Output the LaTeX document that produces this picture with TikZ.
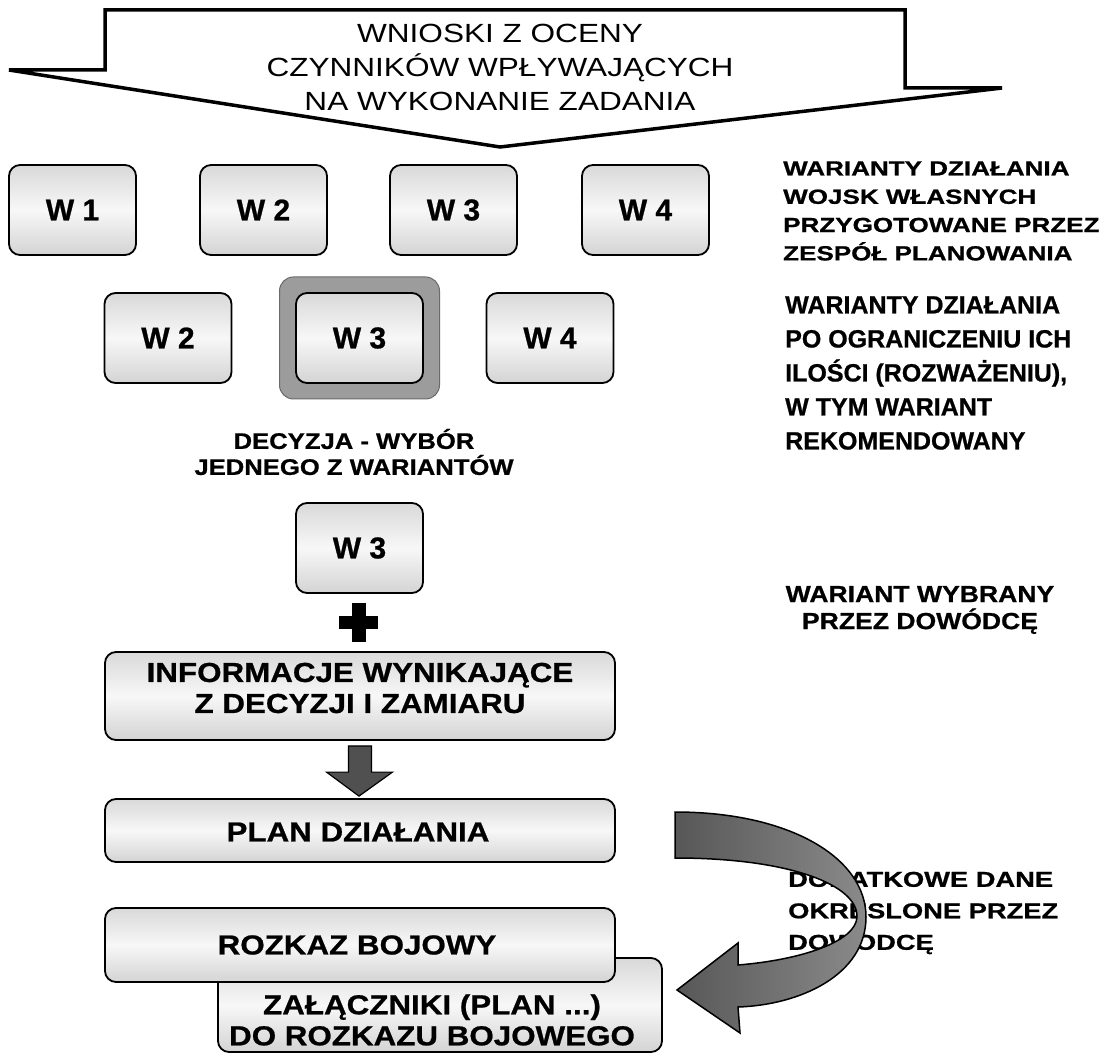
\documentclass[tikz,border=0pt]{standalone}
\usepackage{fontspec}
\setmainfont{Liberation Sans}[BoldFeatures={FakeBold=0.8}]
\newfontfamily\sA{Liberation Sans}[FakeStretch=1.14, BoldFeatures={FakeBold=0.8}]
\newfontfamily\sB{Liberation Sans}[FakeStretch=1.2]
\newfontfamily\sC{Liberation Sans}[FakeStretch=1.27, BoldFeatures={FakeBold=0.8}]
\usetikzlibrary{calc}
\definecolor{arrdark}{HTML}{575757}
\definecolor{arrlight}{HTML}{8A8A8A}
\definecolor{hlfill}{HTML}{9C9C9C}
\definecolor{hldraw}{HTML}{6A6A6A}
\definecolor{downfill}{HTML}{505050}
\begin{document}
\begin{tikzpicture}[x=1pt,y=-1pt,
  wbox/.style={draw=black, line width=1.8pt, rounded corners=11pt,
    top color=gray!30, bottom color=gray!34, middle color=gray!6,
    minimum width=127pt, minimum height=90pt, inner sep=0pt,
    font=\bfseries\fontsize{30}{30}\selectfont},
  longbox/.style={draw=black, line width=1.8pt, rounded corners=11pt,
    top color=gray!30, bottom color=gray!34, middle color=gray!6,
    inner sep=0pt},
  btext/.style={font=\sA\bfseries\fontsize{27.5}{31}\selectfont, align=center, inner sep=0pt},
  sidetext/.style={align=left, inner sep=0pt, anchor=west},
]
\fill[white] (0,0) rectangle (1120,1056);
\useasboundingbox (0,0) rectangle (1120,1056);

% top callout
\draw[line width=3.5pt, fill=white] (105,10) -- (905,10) -- (905,88) -- (1002,88)
  -- (500,147) -- (9,70) -- (105,70) -- cycle;
\node[font=\sB\fontsize{26.3}{34}\selectfont, align=center, inner sep=0pt] (wnioski) at (500,67)
  {WNIOSKI Z OCENY\\CZYNNIKÓW WPŁYWAJĄCYCH\\NA WYKONANIE ZADANIA};

% first row
\node[wbox] (a1) at (72.5,210) {W 1};
\node[wbox] (a2) at (263.5,210) {W 2};
\node[wbox] (a3) at (453.5,210) {W 3};
\node[wbox] (a4) at (645.5,210) {W 4};

% second row
\node[draw=hldraw, line width=1pt, fill=hlfill, rounded corners=14pt,
  minimum width=160pt, minimum height=122pt, inner sep=0pt] (hl) at (359.5,338) {};
\node[wbox] (b2) at (168,338) {W 2};
\node[wbox] (b3) at (hl.center) {W 3};
\node[wbox] (b4) at (550,338) {W 4};

% decision
\node[font=\sA\bfseries\fontsize{22.5}{26}\selectfont, align=center, inner sep=0pt] (dec) at (354,452)
  {DECYZJA - WYBÓR\\JEDNEGO Z WARIANTÓW};
\node[wbox] (c3) at (359.5,548) {W 3};

% plus
\node[inner sep=0pt, minimum size=39pt] (plus) at (358.5,622.5) {};
\draw[line width=13pt] (plus.west) -- (plus.east);
\draw[line width=14pt] (plus.north) -- (plus.south);

% info box
\node[longbox, minimum width=510pt, minimum height=88pt] (info) at (360,696) {};
\node[btext] (infoT) at (360,688) {INFORMACJE WYNIKAJĄCE\\Z DECYZJI I ZAMIARU};

% plan box
\node[longbox, minimum width=510pt, minimum height=63pt] (plan) at (360,830.5) {};
\node[btext] (planT) at (358,832) {PLAN DZIAŁANIA};

% down arrow info -> plan
\draw[line width=1.2pt, fill=downfill]
  ($(info.south)+(-11.5,5)$) -- ($(info.south)+(11.5,5)$) -- ($(plan.north)+(11.5,-26)$)
  -- ($(plan.north)+(32.5,-26)$) -- ($(plan.north)+(-1,-2)$) -- ($(plan.north)+(-33.5,-26)$)
  -- ($(plan.north)+(-11.5,-26)$) -- cycle;

% attachments box (behind order box)
\node[longbox, minimum width=444pt, minimum height=94pt] (zal) at (440,1005) {};
% order box
\node[longbox, minimum width=510pt, minimum height=74pt] (rozkaz) at (360,945) {};
\node[btext] (rozkazT) at (357,945) {ROZKAZ BOJOWY};
\node[btext] (zalT) at (432,1020) {ZAŁĄCZNIKI (PLAN ...)\\DO ROZKAZU BOJOWEGO};

% side texts
\node[sidetext, font=\sC\bfseries\fontsize{20.5}{28.3}\selectfont] (g1) at (783,211)
  {WARIANTY DZIAŁANIA\\WOJSK WŁASNYCH\\PRZYGOTOWANE PRZEZ\\ZESPÓŁ PLANOWANIA};
\node[sidetext, font=\bfseries\fontsize{25}{34}\selectfont] (g2) at (785,373)
  {WARIANTY DZIAŁANIA\\PO OGRANICZENIU ICH\\ILOŚCI (ROZWAŻENIU),\\W TYM WARIANT\\REKOMENDOWANY};
\node[font=\sA\bfseries\fontsize{23.3}{27}\selectfont, align=center, inner sep=0pt] (g3) at (920,610)
  {WARIANT WYBRANY\\PRZEZ DOWÓDCĘ};
\node[sidetext, font=\sC\bfseries\fontsize{21.5}{31.5}\selectfont] (g4) at (788,913)
  {DODATKOWE DANE\\OKRESLONE PRZEZ\\DOWODCĘ};

% curved arrow plan -> attachments (drawn over the text, as in the original)
\draw[line width=1.5pt, left color=arrdark, right color=arrlight]
  (675,812) .. controls (790,812) and (866,858) .. (866,917)
  .. controls (866,975) and (800,1005) .. (738,1007)
  -- (740,1033) -- (677,990) -- (738,943) -- (738,965)
  .. controls (800,960) and (856,942) .. (857,917)
  .. controls (858,885) and (790,858) .. (675,858) -- cycle;
\end{tikzpicture}
\end{document}
